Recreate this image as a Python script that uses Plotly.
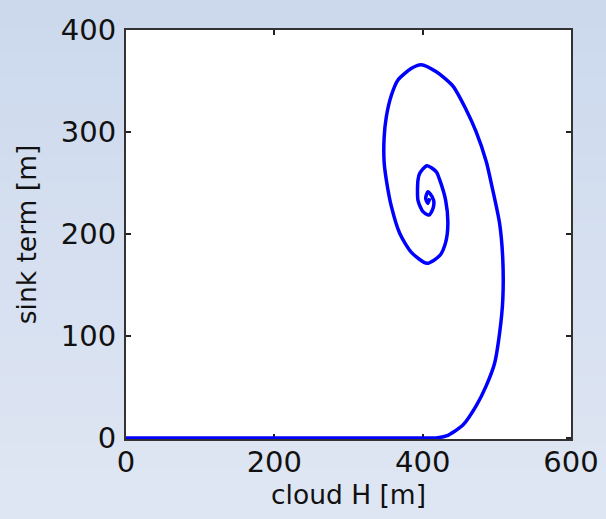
import plotly.graph_objects as go

# Trajectory: cloud height H [m] vs. sink term [m]
cloud_h = [0, 200, 400, 418, 432, 454.3, 472.3, 485.8, 497, 503.7, 508, 508, 503.7,
           492.5, 485.8, 472, 458.8, 440.8, 418.4, 398, 385, 366.7, 357.8, 351, 348,
           348, 351, 357.8, 369, 384.8, 405.8, 422.9, 431, 434, 431, 423, 418.4,
           405.8, 396, 393.7, 393.7, 400.4, 408.5, 413.9, 414.8, 409.4, 407, 404,
           407, 409.5]
sink_term = [0, 0, 0, 0, 2, 12.7, 31.7, 51.3, 73.2, 102.6, 135, 175.5, 210.5,
             249.7, 270.9, 300.3, 321.6, 345, 359, 366, 362.5, 351, 336, 315, 294,
             271, 253, 227, 200.7, 182, 171.3, 178.7, 191.8, 210.5, 233, 253, 261,
             267, 259.5, 253, 233, 222, 218.6, 225, 233, 240, 241.5, 235,
             230, 235]

x_ticks = [0, 200, 400, 600]
y_ticks = [0, 100, 200, 300, 400]

W, H = 606, 519
M = dict(l=126, r=35, t=30, b=80)

# Soft vertical slide-style gradient behind the axes
shapes = []
n_bands = 40
top_rgb = (204, 217, 237)
bot_rgb = (223, 230, 243)
y_lo = -M["b"] / (H - M["t"] - M["b"])
y_hi = 1 + M["t"] / (H - M["t"] - M["b"])
for i in range(n_bands):
    f = i / (n_bands - 1)
    c = tuple(round(bot_rgb[k] + (top_rgb[k] - bot_rgb[k]) * f) for k in range(3))
    y0 = y_lo + (y_hi - y_lo) * i / n_bands
    y1 = y_lo + (y_hi - y_lo) * (i + 1) / n_bands
    shapes.append(dict(type="rect", xref="paper", yref="paper", x0=-1, x1=2,
                       y0=y0, y1=y1 + 0.002, fillcolor="rgb(%d,%d,%d)" % c,
                       line=dict(width=0), layer="below"))
# white axes area
shapes.append(dict(type="rect", xref="x domain", yref="y domain", x0=0, x1=1, y0=0, y1=1,
                   fillcolor="white", line=dict(width=0), layer="below"))

fig = go.Figure()
fig.add_trace(go.Scatter(x=cloud_h, y=sink_term, mode="lines",
                         line=dict(color="#0000ff", width=3.5, shape="spline", smoothing=0.7),
                         showlegend=False, hoverinfo="skip"))

font = "DejaVu Sans, Verdana, sans-serif"
axis_common = dict(showgrid=False, zeroline=False, showline=True, linecolor="#333333",
                   linewidth=2, mirror="ticks", ticks="inside", ticklen=5, tickwidth=1.5,
                   tickcolor="#222222", tickfont=dict(family=font, size=29, color="#111111"),
                   layer="below traces", automargin=False)

fig.update_layout(
    width=W, height=H, margin=M,
    paper_bgcolor="rgb(214,223,240)", plot_bgcolor="white",
    shapes=shapes,
    xaxis=dict(range=[0, 600], tickvals=x_ticks, ticktext=[str(v) for v in x_ticks],
               title=dict(text="cloud H [m]", font=dict(family=font, size=26.5, color="#111111"),
                          standoff=2),
               ticklabelstandoff=-4,
               **axis_common),
    yaxis=dict(range=[-1, 400], tickvals=y_ticks, ticktext=[str(v) for v in y_ticks],
               title=dict(text="sink term [m]", font=dict(family=font, size=26.5, color="#111111"),
                          standoff=17),
               ticklabelstandoff=2,
               **axis_common),
)

fig.write_html("out.html")
